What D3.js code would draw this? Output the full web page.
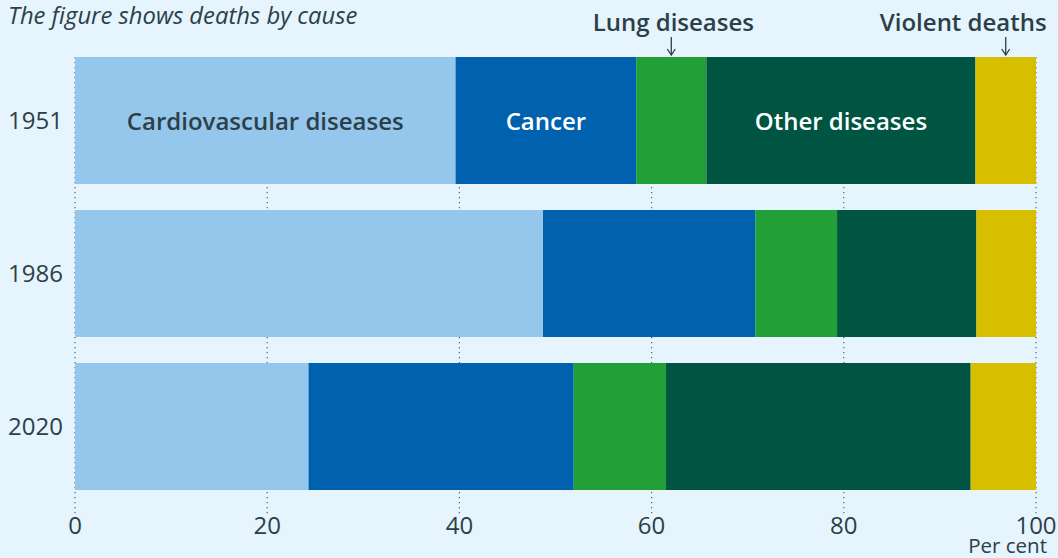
<!DOCTYPE html>
<html>
<head>
<meta charset="utf-8">
<script src="https://cdn.jsdelivr.net/npm/d3@7"></script>
<style>
  body { margin: 0; background: #e6f4fd; }
  svg { display: block; font-family: "Open Sans", sans-serif; }
</style>
</head>
<body>
<div id="chart"></div>
<script>
// data (per cent)
var years       = ['1951', '1986', '2020'];
var causes      = ['Cardiovascular diseases', 'Cancer', 'Lung diseases', 'Other diseases', 'Violent deaths'];
var cardio      = [39.6, 48.7, 24.3];
var cancer      = [18.8, 22.1, 27.6];
var lung        = [7.3, 8.5, 9.6];
var other       = [28.0, 14.5, 31.7];
var violent     = [6.3, 6.2, 6.8];
var xTicks      = [0, 20, 40, 60, 80, 100];
var colors      = ['#95c6eb', '#0062ae', '#21a038', '#005442', '#d7bf00'];
var textCol     = '#2b4048';

const W = 1058, H = 558;
const margin = {left: 75, right: 22, top: 57, bottom: 68};

var rows = years.map(function(y, i) {
    return {year: y, vals: [cardio[i], cancer[i], lung[i], other[i], violent[i]]};
});

var svg = d3.select('#chart').append('svg')
    .attr('width', W).attr('height', H);

svg.append('rect').attr('width', W).attr('height', H).attr('fill', '#e6f4fd');

var x = d3.scaleLinear().domain([0, 100]).range([margin.left, W - margin.right]);
var y = d3.scaleBand().domain(years)
    .range([margin.top, 490])
    .paddingInner(0.17).paddingOuter(0);

var barBottom = y(years[years.length - 1]) + y.bandwidth();

// dotted grid lines behind the bars
svg.append('g').selectAll('line').data(xTicks).join('line')
    .attr('x1', d => x(d)).attr('x2', d => x(d))
    .attr('y1', margin.top).attr('y2', barBottom + 25)
    .attr('stroke', '#55656b').attr('stroke-width', 1.2)
    .attr('stroke-dasharray', '1.2,3.8');

// stacked bars
rows.forEach(function(r) {
    var acc = 0;
    var segs = r.vals.map(function(v, j) {
        var s = {x0: acc, x1: acc + v, j: j};
        acc += v;
        return s;
    });
    // last segment always closes at 100
    segs[segs.length - 1].x1 = 100;
    r.segs = segs;
    svg.append('g').selectAll('rect').data(segs).join('rect')
        .attr('x', d => x(d.x0))
        .attr('width', d => x(d.x1) - x(d.x0))
        .attr('y', y(r.year))
        .attr('height', y.bandwidth())
        .attr('fill', d => colors[d.j]);
});

// labels inside the first bar
var first = rows[0];
var inside = [0, 1, 3];
svg.append('g').selectAll('text').data(inside).join('text')
    .attr('x', j => (x(first.segs[j].x0) + x(first.segs[j].x1)) / 2)
    .attr('y', y(first.year) + y.bandwidth() / 2)
    .attr('dy', '0.4em')
    .attr('text-anchor', 'middle')
    .attr('font-size', 24).attr('font-weight', 600)
    .attr('fill', j => j === 0 ? textCol : '#ffffff')
    .text(j => causes[j]);

// labels above the bar with arrows
var above = [{j: 2, anchor: 'middle', dx: 2}, {j: 4, anchor: 'end', dx: 41}];
above.forEach(function(a) {
    var cx = (x(first.segs[a.j].x0) + x(first.segs[a.j].x1)) / 2;
    svg.append('text')
        .attr('x', cx + a.dx).attr('y', 31)
        .attr('text-anchor', a.anchor)
        .attr('font-size', 24).attr('font-weight', 600)
        .attr('fill', textCol)
        .text(causes[a.j]);
    svg.append('line')
        .attr('x1', cx).attr('x2', cx)
        .attr('y1', 37).attr('y2', 55)
        .attr('stroke', textCol).attr('stroke-width', 1.3);
    svg.append('path')
        .attr('d', 'M' + (cx - 4) + ',49 L' + cx + ',55 L' + (cx + 4) + ',49')
        .attr('fill', 'none')
        .attr('stroke', textCol).attr('stroke-width', 1.3);
});

// year labels
svg.append('g').selectAll('text').data(years).join('text')
    .attr('x', 63)
    .attr('y', d => y(d) + y.bandwidth() / 2)
    .attr('dy', '0.36em')
    .attr('text-anchor', 'end')
    .attr('font-size', 24)
    .attr('fill', textCol)
    .text(d => d);

// x axis tick labels
svg.append('g').selectAll('text').data(xTicks).join('text')
    .attr('x', d => x(d))
    .attr('y', 534)
    .attr('text-anchor', 'middle')
    .attr('font-size', 24)
    .attr('fill', textCol)
    .text(d => d);

svg.append('text')
    .attr('x', 1047).attr('y', 553)
    .attr('text-anchor', 'end')
    .attr('font-size', 20.5)
    .attr('fill', textCol)
    .text('Per cent');

// title
svg.append('text')
    .attr('x', 8).attr('y', 24)
    .attr('font-size', 23.8).attr('font-style', 'italic')
    .attr('fill', textCol)
    .text('The figure shows deaths by cause');
</script>
</body>
</html>
